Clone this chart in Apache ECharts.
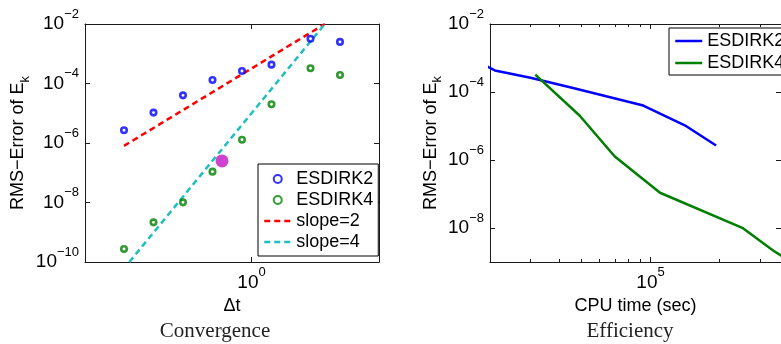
<!DOCTYPE html>
<html>
<head>
<meta charset="utf-8">
<script src="https://cdn.jsdelivr.net/npm/echarts@6/dist/echarts.min.js"></script>
<style>
  html, body { margin: 0; padding: 0; background: #fff; }
  #chart { width: 781px; height: 344px; }
</style>
</head>
<body>
<div id="chart"></div>
<script>
// --- Convergence panel: time step vs RMS error ---
const dtValues = [0.05, 0.1, 0.2, 0.4, 0.8, 1.6, 4, 8];
const convErr2 = [2.67e-6, 1.05e-5, 4.0e-5, 1.31e-4, 2.63e-4, 4.3e-4, 3.2e-3, 2.5e-3];
const convErr4 = [2.73e-10, 2.15e-9, 1.01e-8, 1.09e-7, 1.29e-6, 2.0e-5, 3.24e-4, 1.93e-4];
const slope2X = [0.05, 5.6];
const slope2Y = [8e-7, 1e-2];
const slope4X = [0.0567, 5.6];
const slope4Y = [1e-10, 1e-2];
const markedPoint = [0.5, 2.5e-7];

const convXRange = [0.02, 20];
const convYRange = [1e-10, 1e-2];
const convXTicks = [1];
const convYTicks = [1e-10, 1e-8, 1e-6, 1e-4, 1e-2];

// --- Efficiency panel: CPU time vs RMS error ---
const cpu2 = [1.2e4, 2.1e4, 3.0e4, 4.6e4, 9.3e4, 1.41e5, 1.93e5];
const effErr2 = [3.2e-3, 4.3e-4, 2.63e-4, 1.31e-4, 4.0e-5, 1.05e-5, 2.67e-6];
const cpu4 = [3.15e4, 4.92e4, 6.97e4, 1.10e5, 2.51e5, 3.43e5, 5.5e5];
const effErr4 = [3.24e-4, 2.0e-5, 1.29e-6, 1.09e-7, 1.01e-8, 2.15e-9, 2.73e-10];

const effXRange = [2e4, 3.7e5];
const effYRange = [1e-9, 1e-2];
const effXTicks = [1e5];
const effXMinorTicks = [3e4, 4e4, 5e4, 6e4, 7e4, 8e4, 9e4, 2e5, 3e5];
const effYTicks = [1e-8, 1e-6, 1e-4, 1e-2];

const FONT = "'Liberation Sans', Arial, sans-serif";
const AXIS_COLOR = "#1a1a1a";
const BLUE = "#0000ff";
const GREEN = "#007f00";
const RED = "#ff0000";
const CYAN = "#1fbfbf";

const zip = (xs, ys) => xs.map((x, i) => [x, ys[i]]);

function powLabel(v) {
  const e = Math.round(Math.log10(v));
  return "10{sup|" + String(e).replace("-", "\u2212") + "}";
}

const tickRich = {
  sup: { fontSize: 13, fontFamily: FONT, color: "#000", padding: [0, 0, 20, 0] },
};

function logAxis(gridIndex, position, range, ticks, tickLen, labels, showLine) {
  return {
    type: "log",
    gridIndex,
    position,
    min: range[0],
    max: range[1],
    axisLine: { show: showLine, lineStyle: { color: AXIS_COLOR, width: 1 } },
    axisTick: {
      show: true,
      inside: true,
      length: tickLen,
      customValues: ticks,
      lineStyle: { color: AXIS_COLOR, width: 1 },
    },
    axisLabel: labels
      ? {
          customValues: ticks,
          formatter: powLabel,
          fontSize: 19,
          fontFamily: FONT,
          color: "#000",
          margin: position === "left" ? 6 : 4,
          rich: tickRich,
        }
      : { show: false },
    splitLine: { show: false },
    minorTick: { show: false },
  };
}

const yName = "RMS\u2212Error of E{sub|k}";
const nameStyle = {
  fontSize: 18,
  fontFamily: FONT,
  color: "#000",
  rich: { sub: { fontSize: 13, fontFamily: FONT, color: "#000", padding: [14, 0, 0, 0] } },
};

const xAxes = [
  Object.assign(logAxis(0, "bottom", convXRange, convXTicks, 5, true, true), {
    name: "\u0394t", nameLocation: "middle", nameGap: 28, nameTextStyle: nameStyle,
  }),
  logAxis(0, "top", convXRange, convXTicks, 5, false, true),
  Object.assign(logAxis(1, "bottom", effXRange, effXTicks, 5, true, true), {
    name: "CPU time (sec)", nameLocation: "middle", nameGap: 28, nameTextStyle: nameStyle,
  }),
  logAxis(1, "bottom", effXRange, effXMinorTicks, 3, false, false),
  logAxis(1, "top", effXRange, effXTicks, 5, false, true),
  logAxis(1, "top", effXRange, effXMinorTicks, 3, false, false),
];

const yAxes = [
  Object.assign(logAxis(0, "left", convYRange, convYTicks, 5, true, true), {
    name: yName, nameLocation: "middle", nameGap: 52, nameTextStyle: nameStyle,
  }),
  logAxis(0, "right", convYRange, convYTicks, 5, false, true),
  Object.assign(logAxis(1, "left", effYRange, effYTicks, 5, true, true), {
    name: yName, nameLocation: "middle", nameGap: 44, nameTextStyle: nameStyle,
  }),
  logAxis(1, "right", effYRange, effYTicks, 5, false, true),
];

function ringSeries(name, data, color) {
  return {
    name,
    type: "scatter",
    xAxisIndex: 0,
    yAxisIndex: 0,
    data,
    symbol: "circle",
    symbolSize: 5.5,
    itemStyle: { color: "rgba(0,0,0,0)", borderColor: color, borderWidth: 2.6 },
    z: 4,
  };
}

function lineSeries(name, data, color, xi, yi, dashed) {
  return {
    name,
    type: "line",
    xAxisIndex: xi,
    yAxisIndex: yi,
    data,
    symbol: "none",
    clip: true,
    lineStyle: { color, width: 2.5, type: dashed ? [6, 4] : "solid" },
    itemStyle: { color },
    z: 3,
  };
}

const series = [
  lineSeries("slope=2", zip(slope2X, slope2Y), RED, 0, 0, true),
  lineSeries("slope=4", zip(slope4X, slope4Y), CYAN, 0, 0, true),
  ringSeries("ESDIRK2", zip(dtValues, convErr2), BLUE),
  ringSeries("ESDIRK4", zip(dtValues, convErr4), GREEN),
  {
    name: "marked",
    type: "scatter",
    xAxisIndex: 0,
    yAxisIndex: 0,
    data: [markedPoint],
    symbolSize: 13,
    itemStyle: { color: "#c313c3" },
    z: 5,
  },
  lineSeries("ESDIRK2 (cpu)", zip(cpu2, effErr2), BLUE, 2, 2, false),
  lineSeries("ESDIRK4 (cpu)", zip(cpu4, effErr4), GREEN, 2, 2, false),
];

const legendText = { fontSize: 18, fontFamily: FONT, color: "#000" };
const hideDot = { opacity: 0 };

const option = {
  animation: false,
  backgroundColor: "#fff",
  grid: [
    { left: 85, top: 24, width: 294, height: 238 },
    { left: 490, top: 24, width: 294, height: 238 },
  ],
  xAxis: xAxes,
  yAxis: yAxes,
  legend: [
    {
      orient: "vertical",
      left: 258,
      top: 164,
      padding: [6, 5, 5, 5],
      itemGap: 3,
      itemWidth: 27,
      itemHeight: 8,
      selectedMode: false,
      backgroundColor: "#fff",
      borderColor: "#000",
      borderWidth: 1,
      textStyle: legendText,
      lineStyle: { width: 2.5 },
      data: [
        "ESDIRK2",
        "ESDIRK4",
        { name: "slope=2", itemStyle: hideDot },
        { name: "slope=4", itemStyle: hideDot },
      ],
    },
    {
      orient: "vertical",
      left: 669,
      top: 28,
      padding: [4, 5, 3, 5],
      itemGap: 4,
      itemWidth: 27,
      itemHeight: 8,
      selectedMode: false,
      backgroundColor: "#fff",
      borderColor: "#000",
      borderWidth: 1,
      textStyle: legendText,
      lineStyle: { width: 2.5 },
      formatter: (n) => n.replace(" (cpu)", ""),
      data: [
        { name: "ESDIRK2 (cpu)", itemStyle: hideDot },
        { name: "ESDIRK4 (cpu)", itemStyle: hideDot },
      ],
    },
  ],
  title: [
    {
      text: "Convergence",
      left: 210,
      top: 316,
      textAlign: "center",
      textStyle: { fontFamily: "'Liberation Serif', serif", fontSize: 21, fontWeight: "normal", color: "#222" },
    },
    {
      text: "Efficiency",
      left: 625,
      top: 316,
      textAlign: "center",
      textStyle: { fontFamily: "'Liberation Serif', serif", fontSize: 21, fontWeight: "normal", color: "#222" },
    },
  ],
  series,
};

const chart = echarts.init(document.getElementById("chart"), null, { renderer: "canvas" });
chart.setOption(option);
</script>
</body>
</html>
